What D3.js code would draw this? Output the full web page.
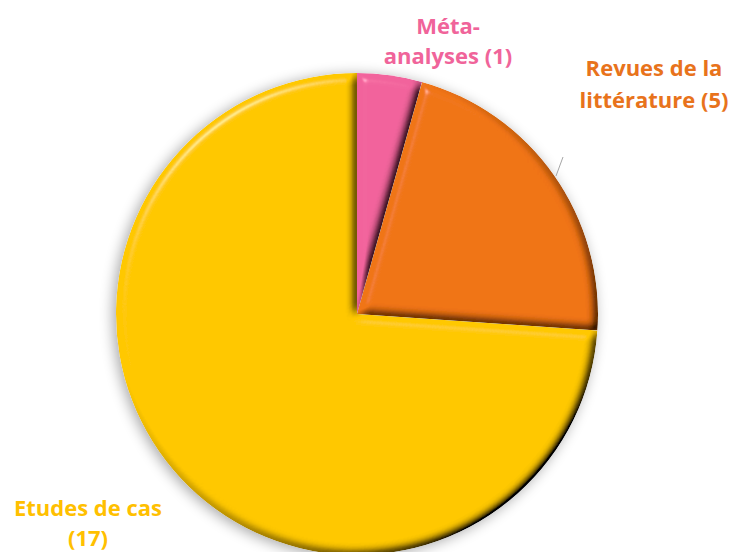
<!DOCTYPE html>
<html>
<head>
<meta charset="utf-8">
<script src="https://cdn.jsdelivr.net/npm/d3@7"></script>
<style>
  body { margin: 0; background: #fff; }
  svg { display: block; }
  .lbl { font-family: "Open Sans", sans-serif; font-weight: 700; font-size: 22px; }
</style>
</head>
<body>
<script>
// data
const categories = ['Méta-analyses', 'Revues de la littérature', 'Etudes de cas'];
const values = [1, 5, 17];
const colors = ['#f2649c', '#f07414', '#ffc800'];
const textColors = ['#f0649a', '#e8731c', '#ffc000'];
// label lines, as laid out in the picture
const labelLines = [['Méta-', 'analyses (1)'], ['Revues de la', 'littérature (5)'], ['Etudes de cas', '(17)']];

const W = 731, H = 552;
const cx = 357, cy = 314, radius = 241;

const svg = d3.select('body').append('svg')
    .attr('width', W)
    .attr('height', H);

const defs = svg.append('defs');

// soft shadow round the whole pie
const shadow = defs.append('filter').attr('id', 'shadow')
    .attr('x', '-20%').attr('y', '-20%').attr('width', '140%').attr('height', '140%');
shadow.append('feGaussianBlur').attr('in', 'SourceAlpha').attr('stdDeviation', 7).attr('result', 'b');
shadow.append('feOffset').attr('in', 'b').attr('dx', -3).attr('dy', 2).attr('result', 'o');
shadow.append('feComponentTransfer').attr('in', 'o').attr('result', 's')
    .append('feFuncA').attr('type', 'linear').attr('slope', 0.35);
const sm = shadow.append('feMerge');
sm.append('feMergeNode').attr('in', 's');
sm.append('feMergeNode').attr('in', 'SourceGraphic');

// bevel for each slice
const bevel = defs.append('filter').attr('id', 'bevel')
    .attr('x', '-5%').attr('y', '-5%').attr('width', '110%').attr('height', '110%');
bevel.append('feGaussianBlur').attr('in', 'SourceAlpha').attr('stdDeviation', 5).attr('result', 'blur');
bevel.append('feDiffuseLighting').attr('in', 'blur').attr('surfaceScale', 7)
    .attr('diffuseConstant', 1.35).attr('lighting-color', '#fff').attr('result', 'diff')
    .append('feDistantLight').attr('azimuth', 225).attr('elevation', 48);
bevel.append('feComposite').attr('in', 'SourceGraphic').attr('in2', 'diff')
    .attr('operator', 'arithmetic').attr('k1', 1).attr('k2', 0).attr('k3', 0).attr('k4', 0)
    .attr('result', 'lit');
bevel.append('feSpecularLighting').attr('in', 'blur').attr('surfaceScale', 7)
    .attr('specularConstant', 0.7).attr('specularExponent', 60)
    .attr('lighting-color', '#fff').attr('result', 'spec')
    .append('feDistantLight').attr('azimuth', 235).attr('elevation', 40);
bevel.append('feComposite').attr('in', 'spec').attr('in2', 'SourceAlpha')
    .attr('operator', 'in').attr('result', 'specIn');
bevel.append('feComposite').attr('in', 'lit').attr('in2', 'specIn')
    .attr('operator', 'arithmetic').attr('k1', 0).attr('k2', 1).attr('k3', 0.35).attr('k4', 0)
    .attr('result', 'all');
bevel.append('feComposite').attr('in', 'all').attr('in2', 'SourceAlpha').attr('operator', 'in');

const pie = d3.pie().sort(null).value(d => d)(values);
const arc = d3.arc().innerRadius(0).outerRadius(radius);

const g = svg.append('g')
    .attr('transform', 'translate(' + cx + ',' + cy + ')')
    .attr('filter', 'url(#shadow)');

g.selectAll('path')
    .data(pie)
    .enter()
    .append('path')
    .attr('d', arc)
    .attr('fill', (d, i) => colors[i])
    .attr('filter', 'url(#bevel)');

// leader line for the orange label
svg.append('line')
    .attr('x1', 563).attr('y1', 157)
    .attr('x2', 556).attr('y2', 176)
    .attr('stroke', '#a6a6a6').attr('stroke-width', 1);

const labelPos = [[448, 34, 30], [654, 76, 32], [88, 516, 30]];
labelLines.forEach(function (lines, i) {
    const t = svg.append('text')
        .attr('class', 'lbl')
        .attr('fill', textColors[i])
        .attr('text-anchor', 'middle');
    lines.forEach(function (s, j) {
        t.append('tspan')
            .attr('x', labelPos[i][0])
            .attr('y', labelPos[i][1] + j * labelPos[i][2])
            .text(s);
    });
});
</script>
</body>
</html>
